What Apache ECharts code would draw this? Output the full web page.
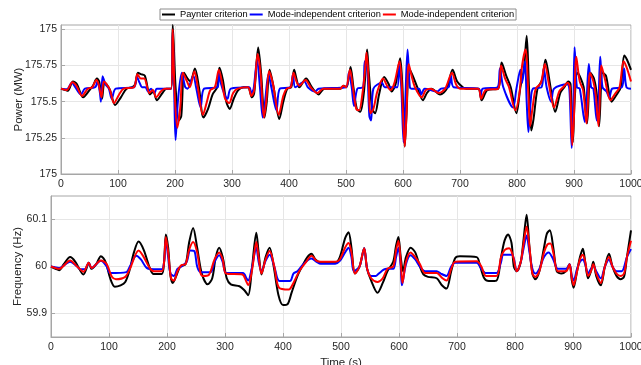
<!DOCTYPE html>
<html>
<head>
<meta charset="utf-8">
<script src="https://cdn.jsdelivr.net/npm/echarts@6/dist/echarts.min.js"></script>
<style>
  html, body { margin: 0; padding: 0; background: #fff; }
  #main { width: 641px; height: 365px; }
</style>
</head>
<body>
<div id="main"></div>
<script>
// legend names (second one has a trailing space so the legend keeps both entries)
let seriesNames = ['Paynter criterion', 'Mode-independent criterion', 'Mode-independent criterion '];
let seriesColors = ['#000000', '#0000ff', '#ff0000'];

let powerTicks = [175, 175.25, 175.5, 175.75, 176];
let powerTickLabels = ['175', '175.25', '175.5', '175.75', '175'];
let freqTicks = [59.9, 60, 60.1];
let freqTickLabels = ['59.9', '60', '60.1'];

// power (MW), [time s, value]
let powerPaynter = [[0,175.59],[8,175.58],[12,175.575],[21,175.64],[28,175.62],[39,175.53],[50,175.58],[56,175.61],[63,175.66],[67,175.64],[72,175.52],[76,175.63],[80,175.62],[86,175.58],[95,175.477],[105,175.53],[115,175.59],[125,175.6],[130,175.62],[135,175.70],[140,175.69],[147,175.68],[156,175.55],[162,175.57],[168,175.51],[178,175.56],[185,175.59],[193,175.59],[196,176.03],[201,175.6],[207,175.37],[211,175.4],[216,175.70],[222,175.66],[227,175.64],[235,175.73],[242,175.6],[250,175.39],[258,175.45],[266,175.55],[274,175.6],[278,175.735],[284,175.65],[290,175.5],[296,175.45],[303,175.52],[311,175.58],[320,175.6],[328,175.6],[335,175.53],[339,175.56],[346,175.875],[351,175.7],[357,175.39],[361,175.5],[366,175.72],[373,175.6],[383,175.38],[390,175.5],[397,175.59],[404,175.6],[409,175.72],[413,175.66],[418,175.6],[430,175.66],[440,175.6],[452,175.55],[462,175.59],[490,175.59],[496,175.61],[501,175.6],[508,175.74],[513,175.6],[519,175.45],[525,175.43],[531,175.55],[535,175.75],[537,175.86],[540,175.7],[546,175.45],[551,175.42],[558,175.55],[567,175.67],[575,175.62],[580,175.57],[587,175.62],[595,175.80],[599,175.6],[603,175.19],[606,175.4],[611,175.73],[617,175.68],[625,175.6],[635,175.51],[642,175.56],[650,175.59],[665,175.55],[677,175.59],[687,175.72],[695,175.64],[705,175.6],[711,175.59],[732,175.59],[738,175.51],[748,175.58],[767,175.59],[773,175.77],[781,175.68],[789,175.6],[799,175.42],[806,175.6],[812,175.72],[817,175.955],[821,175.6],[825,175.3],[829,175.38],[836,175.59],[844,175.65],[850,175.79],[858,175.62],[867,175.43],[876,175.56],[883,175.6],[890,175.64],[894,175.62],[898,175.22],[901,175.5],[906,175.7],[912,175.66],[917,175.6],[923,175.35],[929,175.7],[935,175.66],[940,175.55],[944,175.33],[950,175.7],[956,175.68],[966,175.5],[975,175.55],[982,175.6],[988,175.82],[993,175.79],[1000,175.72]];
let powerModeBlue = [[0,175.59],[10,175.585],[19,175.63],[25,175.6],[35,175.55],[42,175.59],[60,175.6],[64,175.64],[68,175.57],[70,175.5],[73,175.675],[78,175.62],[84,175.59],[89,175.52],[96,175.59],[128,175.6],[133,175.67],[138,175.63],[142,175.6],[148,175.6],[153,175.57],[158,175.59],[164,175.56],[168,175.59],[193,175.59],[196,175.98],[199,175.5],[201,175.235],[205,175.5],[212,175.70],[218,175.6],[222,175.59],[232,175.68],[237,175.6],[245,175.46],[251,175.59],[275,175.6],[277,175.70],[281,175.62],[287,175.55],[292,175.52],[298,175.59],[330,175.6],[334,175.56],[338,175.59],[344,175.79],[349,175.6],[354,175.39],[358,175.5],[364,175.69],[369,175.6],[378,175.44],[384,175.59],[402,175.6],[407,175.69],[411,175.6],[427,175.64],[433,175.6],[446,175.57],[452,175.59],[500,175.6],[505,175.70],[510,175.6],[514,175.47],[520,175.59],[530,175.6],[533,175.78],[537,175.75],[541,175.4],[544,175.37],[548,175.59],[563,175.63],[568,175.6],[590,175.6],[593,175.76],[597,175.6],[601,175.22],[604,175.5],[608,175.86],[612,175.6],[615,175.59],[628,175.59],[632,175.55],[638,175.59],[660,175.57],[667,175.59],[680,175.6],[684,175.68],[689,175.6],[733,175.59],[736,175.54],[740,175.59],[766,175.6],[770,175.73],[776,175.6],[793,175.46],[799,175.59],[806,175.72],[809,175.63],[814,175.78],[817,175.5],[820,175.29],[824,175.5],[828,175.59],[843,175.6],[847,175.73],[852,175.6],[860,175.5],[865,175.59],[888,175.62],[892,175.58],[896,175.18],[899,175.5],[901,175.877],[905,175.6],[910,175.59],[919,175.36],[922,175.5],[926,175.76],[930,175.6],[934,175.59],[940,175.37],[943,175.5],[946,175.81],[950,175.6],[957,175.57],[962,175.53],[967,175.59],[984,175.6],[988,175.73],[992,175.6],[1000,175.59]];
let powerModeRed = [[0,175.59],[10,175.58],[20,175.635],[27,175.61],[37,175.54],[47,175.59],[55,175.6],[62,175.65],[66,175.62],[71,175.53],[75,175.64],[80,175.62],[86,175.58],[93,175.49],[102,175.55],[110,175.59],[128,175.6],[134,175.69],[140,175.66],[146,175.66],[155,175.56],[161,175.58],[167,175.53],[175,175.57],[182,175.59],[193,175.59],[196,176.0],[199,175.6],[204,175.32],[209,175.45],[214,175.70],[221,175.64],[226,175.6],[234,175.71],[240,175.6],[249,175.41],[256,175.5],[262,175.58],[270,175.6],[277,175.72],[283,175.62],[288,175.52],[295,175.49],[302,175.56],[310,175.59],[328,175.6],[334,175.54],[339,175.58],[345,175.83],[350,175.7],[356,175.39],[360,175.5],[365,175.71],[372,175.62],[382,175.41],[390,175.54],[396,175.59],[403,175.6],[408,175.70],[413,175.64],[418,175.61],[429,175.65],[438,175.6],[450,175.56],[460,175.59],[490,175.59],[495,175.61],[500,175.6],[507,175.72],[512,175.6],[518,175.45],[523,175.44],[529,175.56],[533,175.7],[536,175.84],[539,175.7],[543,175.42],[548,175.45],[555,175.57],[565,175.66],[572,175.61],[578,175.58],[585,175.63],[594,175.78],[598,175.6],[603,175.19],[606,175.4],[610,175.76],[615,175.68],[621,175.6],[633,175.53],[640,175.58],[648,175.59],[663,175.56],[674,175.59],[686,175.70],[693,175.62],[700,175.59],[732,175.59],[737,175.52],[745,175.58],[767,175.59],[772,175.75],[779,175.66],[786,175.6],[797,175.44],[804,175.55],[809,175.75],[815,175.86],[820,175.55],[823,175.33],[827,175.45],[833,175.59],[842,175.63],[849,175.76],[856,175.62],[865,175.46],[874,175.57],[881,175.6],[889,175.63],[893,175.6],[897,175.2],[900,175.4],[904,175.81],[910,175.64],[916,175.58],[922,175.35],[928,175.7],[934,175.64],[938,175.55],[943,175.33],[948,175.75],[954,175.66],[964,175.51],[973,175.56],[980,175.6],[987,175.78],[992,175.74],[1000,175.64]];

// frequency (Hz), [time s, value]
let freqPaynter = [[0,60.0],[8,59.995],[14,59.992],[22,60.005],[33,60.02],[42,60.01],[56,59.983],[61,59.995],[65,60.008],[70,59.995],[78,60.005],[86,60.022],[94,60.01],[102,59.975],[110,59.957],[120,59.96],[128,59.967],[135,59.99],[143,60.03],[151,60.053],[160,60.035],[170,59.998],[177,59.984],[191,59.984],[195,60.01],[198,60.068],[202,60.04],[206,59.98],[210,59.965],[216,59.98],[223,60.0],[232,60.005],[238,60.05],[245,60.082],[252,60.04],[260,59.985],[270,59.962],[278,59.975],[284,60.02],[290,60.04],[296,60.02],[303,59.975],[310,59.962],[325,59.958],[333,59.95],[340,59.939],[346,59.99],[354,60.072],[358,60.03],[363,59.983],[370,60.02],[377,60.04],[384,60.0],[392,59.94],[400,59.918],[408,59.92],[415,59.945],[425,59.98],[435,60.005],[442,60.02],[449,60.027],[456,60.015],[465,60.008],[490,60.008],[498,60.02],[507,60.06],[513,60.073],[518,60.04],[524,59.985],[532,60.0],[540,60.039],[545,59.995],[552,59.97],[563,59.944],[572,59.965],[580,59.99],[590,60.01],[595,60.045],[599,60.063],[603,60.02],[607,59.99],[612,60.02],[620,60.04],[628,60.03],[636,60.0],[642,59.983],[650,59.978],[665,59.975],[674,59.96],[682,59.953],[690,59.99],[697,60.018],[705,60.022],[734,60.02],[740,60.0],[747,59.975],[755,59.969],[768,59.97],[776,60.02],[782,60.055],[788,60.068],[794,60.05],[798,60.0],[803,59.99],[810,60.01],[815,60.06],[820,60.11],[825,60.04],[830,59.985],[835,59.973],[842,59.99],[850,60.04],[855,60.07],[860,60.077],[866,60.04],[872,59.99],[880,59.985],[888,59.99],[894,60.005],[898,59.97],[901,59.955],[907,59.99],[912,60.02],[917,60.038],[921,60.01],[926,59.975],[931,59.99],[935,60.01],[940,59.98],[948,59.96],[955,60.0],[962,60.027],[968,60.0],[975,59.98],[982,59.973],[988,59.978],[993,60.02],[1000,60.077]];
let freqModeBlue = [[0,60.0],[14,59.997],[33,60.01],[45,60.0],[50,59.994],[58,59.994],[65,60.008],[70,59.997],[86,60.012],[96,60.0],[102,59.986],[130,59.988],[136,60.0],[147,60.023],[155,60.015],[165,59.997],[177,59.994],[191,59.994],[195,60.01],[198,60.057],[202,60.02],[206,59.985],[212,59.98],[218,59.995],[225,60.0],[234,60.01],[240,60.034],[247,60.033],[252,60.0],[258,59.988],[275,59.988],[282,60.01],[290,60.024],[296,60.01],[302,59.986],[331,59.986],[337,59.975],[340,59.97],[346,59.995],[354,60.04],[358,60.01],[363,59.99],[370,60.012],[377,60.025],[385,60.0],[394,59.969],[412,59.969],[418,59.985],[425,59.99],[435,60.005],[449,60.017],[458,60.01],[465,60.006],[490,60.006],[498,60.012],[507,60.03],[513,60.04],[518,60.02],[522,59.99],[532,60.0],[540,60.039],[545,59.995],[552,59.98],[560,59.98],[565,59.985],[578,59.995],[590,59.995],[595,60.02],[599,60.04],[603,60.0],[605,59.96],[612,60.005],[620,60.024],[628,60.015],[636,60.0],[645,59.99],[665,59.99],[672,59.985],[682,59.98],[690,60.0],[697,60.008],[734,60.008],[742,59.995],[750,59.986],[768,59.986],[776,60.01],[780,60.025],[795,60.025],[803,59.99],[810,60.01],[815,60.04],[820,60.066],[825,60.03],[830,59.995],[835,59.985],[842,59.995],[850,60.02],[858,60.03],[866,60.015],[874,59.995],[888,59.995],[894,60.005],[898,59.98],[901,59.97],[907,59.995],[912,60.01],[917,60.015],[921,60.005],[926,59.985],[931,59.995],[935,60.002],[940,59.99],[948,59.975],[955,60.0],[962,60.015],[968,60.0],[975,59.99],[984,59.99],[993,60.02],[1000,60.037]];
let freqModeRed = [[0,60.0],[14,59.995],[33,60.013],[45,60.0],[56,59.989],[65,60.008],[70,59.997],[86,60.013],[96,60.005],[105,59.978],[112,59.973],[128,59.978],[136,59.995],[151,60.034],[160,60.02],[170,59.997],[177,59.99],[191,59.99],[195,60.01],[198,60.063],[202,60.03],[207,59.975],[212,59.97],[218,59.99],[225,60.003],[232,60.005],[238,60.035],[245,60.052],[252,60.03],[258,59.985],[262,59.98],[272,59.982],[282,60.015],[290,60.03],[296,60.015],[302,59.985],[330,59.983],[336,59.97],[340,59.96],[347,59.995],[354,60.052],[358,60.02],[363,59.985],[370,60.015],[377,60.033],[385,60.0],[393,59.955],[410,59.951],[418,59.965],[428,59.99],[440,60.01],[449,60.023],[458,60.012],[465,60.01],[490,60.01],[498,60.015],[507,60.04],[513,60.05],[518,60.03],[524,59.985],[532,60.0],[540,60.039],[545,59.995],[552,59.975],[563,59.967],[572,59.975],[580,59.995],[590,60.0],[595,60.035],[599,60.055],[603,60.01],[606,59.965],[612,60.01],[620,60.03],[628,60.02],[636,60.005],[645,59.986],[665,59.986],[675,59.975],[682,59.97],[690,59.995],[697,60.01],[734,60.011],[742,60.0],[750,59.98],[768,59.98],[776,60.02],[782,60.035],[790,60.039],[797,60.02],[803,59.99],[810,60.01],[815,60.05],[820,60.085],[825,60.04],[830,59.985],[835,59.978],[842,59.99],[850,60.03],[856,60.047],[861,60.049],[866,60.03],[874,59.99],[888,59.99],[894,60.005],[898,59.975],[901,59.96],[907,59.99],[912,60.015],[917,60.025],[921,60.01],[926,59.98],[931,59.99],[935,60.005],[940,59.985],[948,59.965],[955,60.0],[962,60.02],[968,60.0],[975,59.985],[982,59.98],[988,59.985],[993,60.02],[1000,60.055]];

let fontFamily = '"Liberation Sans", Arial, Helvetica, sans-serif';
let textColor = '#262626';
let boxColor = '#a6a6a6';

function xAxisFor(gridIndex, withName) {
  return {
    type: 'value',
    gridIndex: gridIndex,
    min: 0,
    max: 1000,
    interval: 100,
    name: withName ? 'Time (s)' : '',
    nameLocation: 'middle',
    nameGap: 20,
    nameMoveOverlap: false,
    nameTextStyle: { color: textColor, fontSize: 11.5, fontFamily: fontFamily },
    axisLine: { show: true, lineStyle: { color: boxColor, width: 1 } },
    axisTick: { show: true, inside: true, length: 4, lineStyle: { color: boxColor } },
    axisLabel: {
      color: textColor, fontSize: 10.5, fontFamily: fontFamily, margin: 5,
      showMinLabel: true, showMaxLabel: true,
      formatter: function (v) { return String(v); }
    },
    splitLine: { show: true, lineStyle: { color: '#e6e6e6', width: 1 } }
  };
}

function yAxisFor(gridIndex, name, min, max, ticks, tickLabels, gap) {
  return {
    type: 'value',
    gridIndex: gridIndex,
    min: min,
    max: max,
    name: name,
    nameLocation: 'middle',
    nameGap: gap,
    nameRotate: 90,
    nameMoveOverlap: false,
    nameTextStyle: { color: textColor, fontSize: 11.5, fontFamily: fontFamily },
    axisLine: { show: true, lineStyle: { color: boxColor, width: 1 } },
    axisTick: { show: true, inside: true, length: 4, customValues: ticks, lineStyle: { color: boxColor } },
    axisLabel: {
      color: textColor, fontSize: 10.5, fontFamily: fontFamily, margin: 4,
      customValues: ticks,
      formatter: function (v) {
        for (var i = 0; i < ticks.length; i++) {
          if (Math.abs(ticks[i] - v) < 1e-6) return tickLabels[i];
        }
        return '';
      }
    },
    splitLine: { show: true, lineStyle: { color: '#e6e6e6', width: 1 } }
  };
}

function lineSeries(name, color, data, xi, yi) {
  return {
    name: name,
    type: 'line',
    xAxisIndex: xi,
    yAxisIndex: yi,
    data: data,
    smooth: 0.3,
    showSymbol: false,
    symbol: 'none',
    clip: true,
    lineStyle: { color: color, width: 2 },
    itemStyle: { color: color },
    emphasis: { disabled: true }
  };
}

let chart = echarts.init(document.getElementById('main'), null, { renderer: 'canvas' });

let option = {
  animation: false,
  backgroundColor: '#ffffff',
  legend: {
    data: seriesNames,
    top: 9,
    left: 160,
    itemGap: 2,
    itemWidth: 13,
    itemHeight: 2,
    icon: 'rect',
    padding: [1, 2, 1, 2],
    backgroundColor: '#ffffff',
    borderColor: '#8c8c8c',
    borderWidth: 1,
    borderRadius: 0,
    textStyle: { color: '#000', fontSize: 9.3, fontFamily: fontFamily },
    formatter: function (n) { return n.trim(); }
  },
  grid: [
    { left: 61, right: 10, top: 25, bottom: 191, show: true, borderColor: boxColor, borderWidth: 1, backgroundColor: '#fff', containLabel: false, outerBoundsMode: 'none' },
    { left: 51, right: 10, top: 196, bottom: 28, show: true, borderColor: boxColor, borderWidth: 1, backgroundColor: '#fff', containLabel: false, outerBoundsMode: 'none' }
  ],
  xAxis: [xAxisFor(0, false), xAxisFor(1, true)],
  yAxis: [
    yAxisFor(0, 'Power (MW)', 175, 176.03, powerTicks, powerTickLabels, 36),
    yAxisFor(1, 'Frequency (Hz)', 59.85, 60.15, freqTicks, freqTickLabels, 27)
  ],
  series: [
    lineSeries(seriesNames[0], seriesColors[0], powerPaynter, 0, 0),
    lineSeries(seriesNames[1], seriesColors[1], powerModeBlue, 0, 0),
    lineSeries(seriesNames[2], seriesColors[2], powerModeRed, 0, 0),
    lineSeries(seriesNames[0], seriesColors[0], freqPaynter, 1, 1),
    lineSeries(seriesNames[1], seriesColors[1], freqModeBlue, 1, 1),
    lineSeries(seriesNames[2], seriesColors[2], freqModeRed, 1, 1)
  ]
};

chart.setOption(option);
</script>
</body>
</html>
